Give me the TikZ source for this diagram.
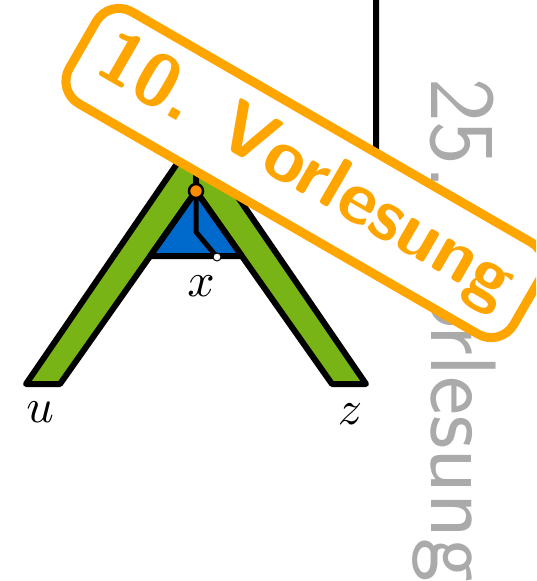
\documentclass[tikz,border=0pt]{standalone}
\definecolor{legGreen}{RGB}{120,180,22}
\definecolor{triBlue}{RGB}{0,106,204}
\definecolor{dotOrange}{RGB}{255,140,0}
\definecolor{stampOrange}{RGB}{255,165,0}
\definecolor{lectGray}{RGB}{170,170,170}
\begin{document}
\begin{tikzpicture}[x=1pt,y=-1pt,
  outl/.style={draw=black,line width=6pt,line join=round},
  edgeline/.style={draw=black,line width=5pt,line join=round},
  lbl/.style={inner sep=0pt,scale=4.8},
  stampbox/.style={draw=stampOrange,line width=9pt,fill=white,text=stampOrange,
    rounded corners=26pt,minimum width=513pt,minimum height=106pt,inner sep=0pt,
    font=\sffamily\bfseries\fontsize{74}{80}\selectfont,rotate=-30},
  graytext/.style={text=lectGray,inner sep=0pt,rotate=-90,anchor=base west,
    font=\sffamily\fontsize{93}{100}\selectfont}]
\useasboundingbox (0,0) rectangle (536,581);
\clip (0,0) rectangle (536,581);
% coordinates
\coordinate (ol) at (26,384);
\coordinate (il) at (60,384);
\coordinate (ir) at (332,384);
\coordinate (or) at (366,384);
\coordinate (top) at (196,136);
\coordinate (x) at (196,191);
\coordinate (bl) at (150.2,256);
\coordinate (br) at (241.8,256);
\coordinate (bend) at (196,232);
\coordinate (up1) at (196,140);
\coordinate (up2) at (376,200);
\coordinate (ltop) at (376,-10);
% gray lecture text
\node[graytext] (lect) at (431,78) {25. Vorlesung};
% legs
\path[outl,fill=legGreen] (ol) -- (top) -- (or) -- (ir) -- (x) -- (il) -- cycle;
\path[outl,fill=triBlue] (x) -- (bl) -- (br) -- cycle;
% line up to the parent
\draw[outl] (x) -- (up1) -- (up2) -- (ltop);
% dots
\coordinate (wd) at (217,257);
\draw[edgeline] (x) -- (bend) -- (wd);
\node[circle,fill=white,draw=black,line width=1pt,minimum size=8pt,inner sep=0pt] (wdot) at (wd) {};
\node[circle,fill=dotOrange,draw=black,line width=2.5pt,minimum size=14pt,inner sep=0pt] (xdot) at (x) {};
% labels
\node[lbl] (lx) at (201,286) {$x$};
\node[lbl] (lu) at (40,412) {$u$};
\node[lbl] (lz) at (350,414) {$z$};
% stamp
\node[stampbox] (stamp) at (305,173) {10. Vorlesung};
\end{tikzpicture}
\end{document}
